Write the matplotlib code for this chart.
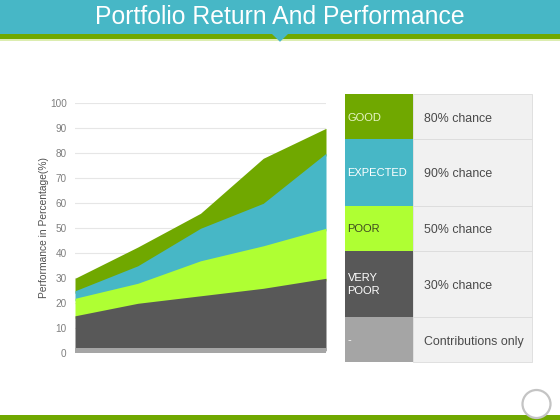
import matplotlib
matplotlib.use('Agg')
import matplotlib.pyplot as plt
from matplotlib.patches import Rectangle, Polygon, Circle

plt.rcParams['font.family'] = ['Liberation Sans', 'DejaVu Sans']

# data (tops of each band)
periods = [1, 2, 3, 4, 5]
good = [30, 42.5, 56, 78, 90]
expected = [25, 35, 50, 60, 80]
poor = [22, 28, 37, 43, 50]
very_poor = [15, 20, 23, 26, 30]
contributions = [2, 2, 2, 2, 2]
baseline = [0, 0, 0, 0, 0]

row_names = ['GOOD', 'EXPECTED', 'POOR', 'VERY\nPOOR', '-']
row_chances = ['80% chance', '90% chance', '50% chance', '30% chance', 'Contributions only']

GREEN = '#70a800'
TEAL = '#47b7c6'
LIME = '#afff33'
DARK = '#585858'
GREY = '#a5a5a5'

W, H = 560, 420
fig = plt.figure(figsize=(W / 100, H / 100), dpi=100)

# page furniture goes on a full size axes in pixel coords
bg = fig.add_axes([0, 0, 1, 1])
bg.set_xlim(0, W)
bg.set_ylim(H, 0)
bg.axis('off')
bg.add_patch(Rectangle((0, 0), W, 34, color=TEAL, lw=0))
bg.add_patch(Rectangle((0, 34), W, 5.3, color=GREEN, lw=0))
bg.add_patch(Rectangle((0, 39.3), W, 1.4, color='#dcedb0', lw=0))
bg.add_patch(Polygon([(272, 34), (288, 34), (280, 41.8)], color=TEAL, lw=0))
bg.text(280, 16.5, 'Portfolio Return And Performance', color='white',
        fontsize=17.85, ha='center', va='center')
bg.add_patch(Rectangle((0, 414.5), W, 5.5, color=GREEN, lw=0))
bg.add_patch(Circle((536.5, 404), 14, fc='white', ec='#c4c4c4', lw=1.6, zorder=3))

# table on the right
row_edges = [94.3, 139.3, 205.7, 250.7, 317.3, 362.3]
row_colors = [GREEN, TEAL, LIME, DARK, GREY]
name_colors = ['#e8f5c8', 'white', '#3f4a20', 'white', 'white']
for i in range(5):
    y0, y1 = row_edges[i], row_edges[i + 1]
    mid = (y0 + y1) / 2
    bg.add_patch(Rectangle((413.3, y0), 118.4, y1 - y0, fc='#f1f1f1', ec='#dcdcdc', lw=0.6))
    bg.add_patch(Rectangle((345, y0), 68.3, y1 - y0, color=row_colors[i], lw=0))
    bg.text(347.5, mid + 0.8, row_names[i], color=name_colors[i], fontsize=8.0,
            ha='left', va='center', linespacing=1.4)
    bg.text(424, mid + 1.8, row_chances[i], color='#4a4a4a', fontsize=8.9,
            ha='left', va='center')

# area chart, each band reaches a bit under the next one so no seams show
ax = fig.add_axes([75 / W, 1 - 353.3 / H, 251 / W, 250 / H])
ax.patch.set_alpha(0)
tops = [good, expected, poor, very_poor, contributions]
lows = [expected, poor, very_poor, contributions, baseline]
cols = [GREEN, TEAL, LIME, DARK, GREY]
for top, low, col in zip(tops, lows, cols):
    under = [max(v - 1, 0) for v in low]
    ax.fill_between(periods, under, top, color=col, lw=0, zorder=2)

ax.set_xlim(1, 5)
ax.set_ylim(0, 100)
ax.set_yticks(range(0, 101, 10))
ax.set_xticks([])
ax.grid(axis='y', color='#e6e6e6', lw=0.8, zorder=0)
ax.set_axisbelow(True)
for s in ax.spines.values():
    s.set_visible(False)
ax.tick_params(axis='y', length=0, labelsize=7.2, labelcolor='#7f7f7f', pad=6)
ax.set_ylabel('Performance in Percentage(%)', fontsize=7.4, color='#505050')
ax.yaxis.set_label_coords((49 - 75) / 251, 0.5 + (353.3 - 228 - 125) / 250)

fig.savefig('out.png', dpi=100)
